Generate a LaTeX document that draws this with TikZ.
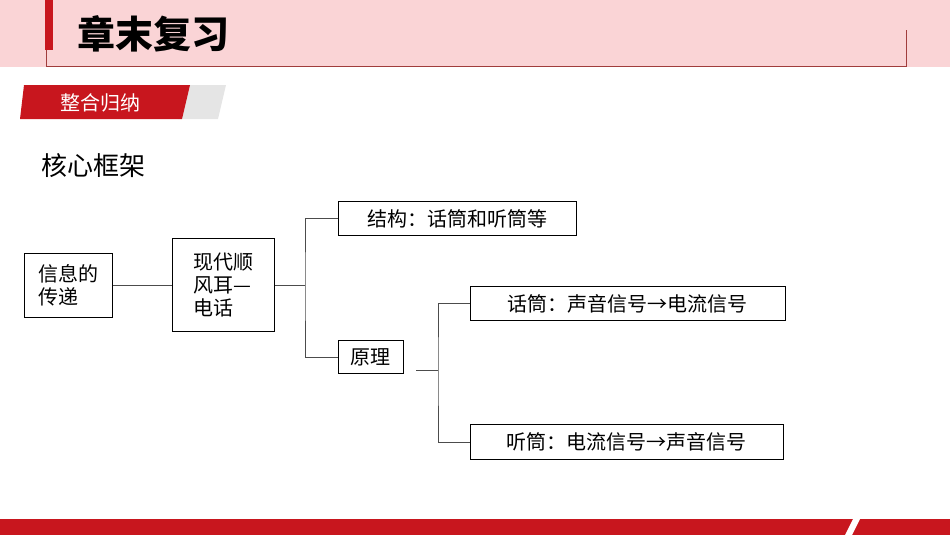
\documentclass[tikz,border=0pt]{standalone}
\usepackage{fontspec}
\setmainfont{Noto Sans CJK SC}
\usetikzlibrary{positioning}
\definecolor{hdrpink}{RGB}{250,212,214}
\definecolor{hdrred}{RGB}{200,22,30}
\definecolor{framegray}{RGB}{160,60,60}
\begin{document}
\begin{tikzpicture}[x=1pt,y=-1pt,semithick,
  box/.style={draw,thick,align=left,inner sep=3pt,font=\fontsize{20}{23}\selectfont,anchor=north west},
  link/.style={draw,black!70}]
\useasboundingbox (0,0) rectangle (950,535);
% header
\fill[hdrpink] (0,0) rectangle (950,67);
\fill[hdrred] (45,0) rectangle (53,50);
\draw[framegray,thick] (46,50) -- (46,66) -- (906,66) -- (906,30);
\node[anchor=west,font=\fontsize{38}{40}\selectfont\bfseries] (title) at (74,34) {章末复习};
% badge
\fill[black!10] (186,85) -- (226,85) -- (218,119) -- (178,119) -- cycle;
\fill[hdrred] (24,85) -- (190,85) -- (182,119) -- (20,119) -- cycle;
\node[white,font=\fontsize{20}{22}\selectfont] (badge) at (100,103) {整合归纳};
% footer
\fill[hdrred] (0,519) rectangle (950,535);
\fill[white] (845,535) -- (853,519) -- (860,519) -- (852,535) -- cycle;
\node[anchor=west,font=\fontsize{26}{28}\selectfont] (core) at (38,166) {核心框架};

\node[box,minimum width=88,minimum height=64] (xx) at (24,253) {信息的\\传递};
\node[box,minimum width=102,minimum height=93] (dh) at (172,238) {现代顺\\风耳—\\电话};
\node[box,minimum width=238,minimum height=34] (jg) at (338,201) {结构：话筒和听筒等};
\node[box,minimum width=65,minimum height=33] (yl) at (338,340) {原理};
\node[box,minimum width=315,minimum height=34] (ht) at (470,286) {话筒：声音信号→电流信号};
\node[box,minimum width=313,minimum height=35] (tt) at (470,424) {听筒：电流信号→声音信号};

\coordinate (b1) at (305,285);
\coordinate (b2) at (438,370);
\draw[link] (xx.east |- 0,285) -- (dh.west |- 0,285);
\draw[link] (dh.east |- 0,285) -- (b1);
\draw[link] (jg.west) -| (b1) |- (yl.west);
\draw[link] (416,370) -- (b2);
\draw[link] (ht.west) -| (b2) |- (tt.west);
\end{tikzpicture}
\end{document}
